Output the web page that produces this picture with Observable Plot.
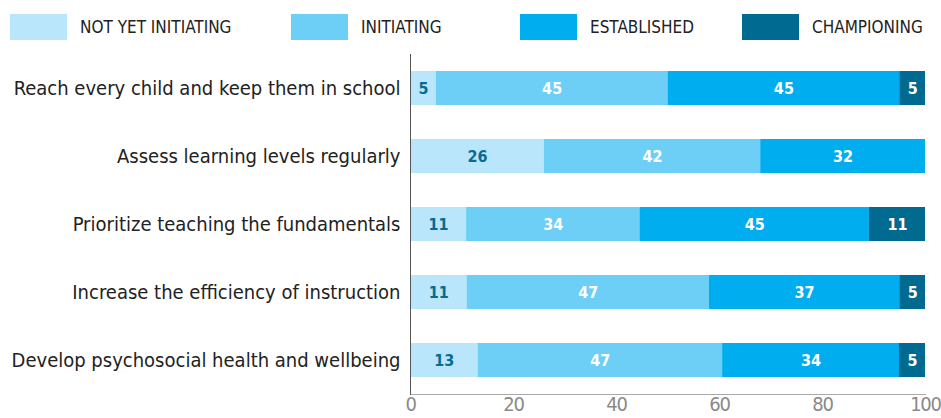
<!DOCTYPE html>
<html><head><meta charset="utf-8">
<script src="https://cdn.jsdelivr.net/npm/d3@7"></script>
<script src="https://cdn.jsdelivr.net/npm/@observablehq/plot@0.6"></script>
<style>
body{margin:0;background:#fff;font-family:"Liberation Sans Narrow","DejaVu Sans Condensed","Roboto",sans-serif;font-stretch:condensed;}
#legend{position:relative;height:50px;width:941px;}
.item{position:absolute;top:14px;display:flex;align-items:center;font-size:17px;color:#222;height:26px;}
.sw{width:57px;height:26px;margin-right:13px;}
g[aria-label="x-axis tick label"] text{letter-spacing:-1.2px;}
</style></head><body>
<div id="legend"></div><div id="chart"></div>
<script>
const categories = [
  "Reach every child and keep them in school",
  "Assess learning levels regularly",
  "Prioritize teaching the fundamentals",
  "Increase the efficiency of instruction",
  "Develop psychosocial health and wellbeing"
];
const levels = ["NOT YET INITIATING", "INITIATING", "ESTABLISHED", "CHAMPIONING"];
const colors = ["#b9e6fa", "#6dcff5", "#00aeef", "#006a91"];
const notYetInitiating = [5, 26, 11, 11, 13];
const initiating = [45, 42, 34, 47, 47];
const established = [45, 32, 45, 37, 34];
const championing = [5, 0, 11, 5, 5];
const xTicks = [0, 20, 40, 60, 80, 100];

const series = [notYetInitiating, initiating, established, championing];
const data = [];
categories.forEach((c, i) => {
  levels.forEach((l, j) => {
    if (series[j][i] > 0) data.push({category: c, level: l, value: series[j][i]});
  });
});

// legend (HTML)
const legendLefts = [10, 291, 520, 742];
const legend = document.getElementById("legend");
levels.forEach((l, j) => {
  const it = document.createElement("div");
  it.className = "item";
  it.style.left = legendLefts[j] + "px";
  it.innerHTML = `<div class="sw" style="background:${colors[j]}"></div><span>${l}</span>`;
  legend.appendChild(it);
});

const font = '"Liberation Sans Narrow","DejaVu Sans Condensed","Roboto",sans-serif';
const stack = (opts) => Plot.stackX({offset: "normalize"}, {x: "value", y: "category", ...opts});
const chart = Plot.plot({
  width: 941,
  height: 368,
  marginLeft: 410,
  marginRight: 16,
  marginTop: 4,
  marginBottom: 24,
  style: {fontFamily: font, fontSize: "20px", background: "#fff"},
  x: {domain: [0, 1], label: null},
  y: {domain: categories, paddingInner: 0.5, paddingOuter: 0.25, label: null},
  color: {domain: levels, range: colors},
  marks: [
    Plot.barX(data, stack({fill: "level"})),
    Plot.text(data, stack({
      text: d => d.level === levels[0] ? d.value : "",
      fill: "#0b6a92", fontWeight: "bold", fontSize: 16})),
    Plot.text(data, stack({
      text: d => d.level !== levels[0] ? d.value : "",
      fill: "white", fontWeight: "bold", fontSize: 16})),
    Plot.frame({anchor: "bottom", stroke: "#aaa"}),
    Plot.frame({anchor: "left", stroke: "#555"}),
    Plot.axisX({ticks: xTicks.map(t => t / 100), tickFormat: d => Math.round(d * 100),
      tickSize: 0, tickPadding: 2, fill: "#8a8a8a", fontSize: 20, label: null}),
    Plot.axisY({tickSize: 0, tickPadding: 10, fill: "#222", fontSize: 20, label: null})
  ]
});
document.getElementById("chart").appendChild(chart);
</script>
</body></html>
